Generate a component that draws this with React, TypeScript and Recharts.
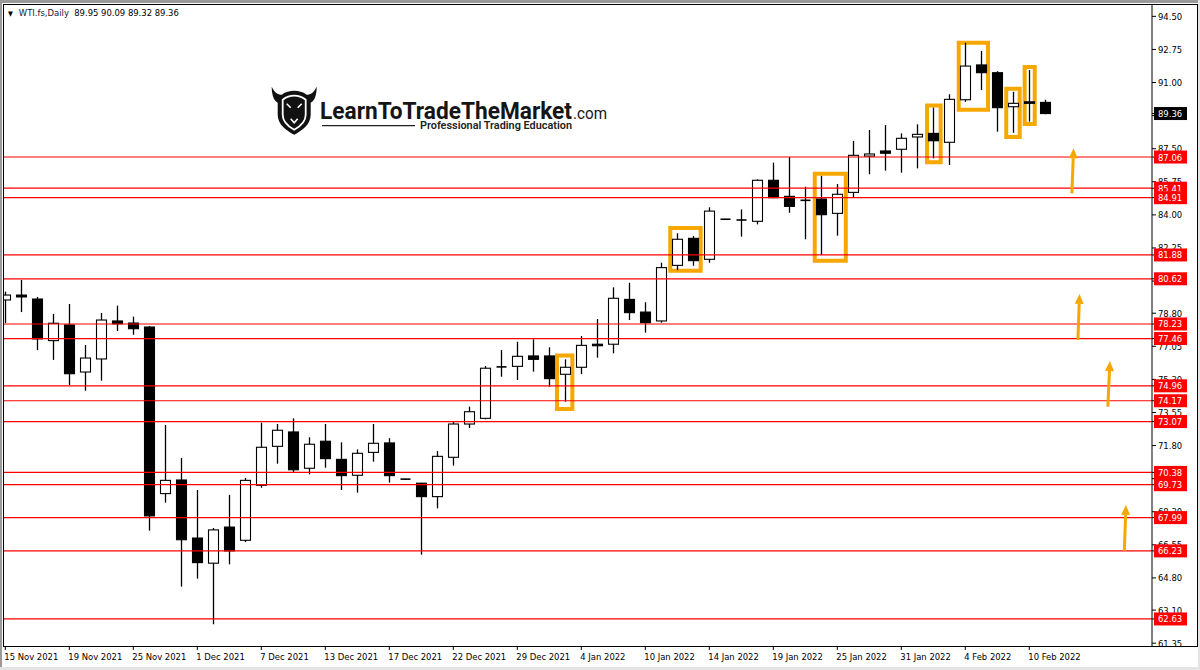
import React from 'react';
import { ComposedChart, Bar, XAxis, YAxis, ReferenceLine, ReferenceArea } from 'recharts';

// WTI daily candles, 15 Nov 2021 .. 11 Feb 2022
const opens = [
  79.5, 79.76, 79.55, 77.35, 78.18, 75.69, 76.38, 78.39, 78.28, 78.07,
  69.26, 69.98, 66.91, 65.58, 67.49, 66.79, 69.7, 71.76, 72.52, 70.6,
  72.03, 71.07, 70.23, 71.44, 71.94, 70.03, 69.81, 69.1, 71.18, 72.94,
  73.24, 75.95, 75.99, 76.54, 76.54, 75.57, 75.94, 77.16, 77.16, 79.53,
  78.86, 78.39, 81.33, 82.76, 81.65, 83.77, 83.73, 83.66, 85.83, 84.98,
  84.77, 84.84, 84.08, 85.19, 87.11, 87.38, 87.47, 88.12, 88.31, 87.84,
  90.09, 91.93, 91.52, 89.72, 89.98, 89.95,
];
const highs = [
  79.94, 80.56, 79.66, 78.76, 79.29, 77.12, 78.81, 79.2, 78.62, 78.12,
  72.89, 71.14, 69.45, 67.44, 69.19, 70.09, 73.01, 72.94, 73.24, 72.24,
  72.94, 71.97, 71.6, 72.94, 72.19, 70.04, 69.83, 71.51, 73.1, 73.86,
  76.01, 76.85, 77.29, 77.42, 77.0, 76.36, 77.59, 78.49, 80.17, 80.41,
  79.38, 81.47, 83.03, 82.88, 84.4, 83.79, 84.29, 85.88, 86.76, 87.06,
  85.49, 86.06, 85.63, 87.91, 88.49, 88.75, 88.31, 88.79, 89.67, 90.38,
  93.1, 92.67, 91.6, 90.51, 91.66, 90.09,
];
const lows = [
  78.28, 78.86, 76.85, 76.33, 75.0, 74.7, 75.23, 77.86, 77.66, 67.3,
  68.78, 64.34, 64.76, 62.35, 65.52, 66.69, 69.57, 70.84, 70.37, 70.28,
  70.63, 69.45, 69.31, 70.95, 69.84, 70.0, 66.03, 68.48, 70.74, 72.73,
  73.19, 75.44, 75.27, 75.71, 74.91, 74.12, 75.58, 76.45, 76.68, 78.44,
  77.77, 78.3, 81.08, 81.31, 81.47, 83.75, 82.85, 83.5, 84.88, 84.11,
  82.71, 81.88, 82.9, 84.93, 86.15, 86.34, 86.23, 86.46, 86.99, 86.64,
  89.98, 90.6, 88.4, 88.34, 88.93, 89.32,
];
const closes = [
  79.76, 79.66, 77.44, 78.27, 75.6, 76.43, 78.44, 78.24, 77.98, 68.08,
  69.96, 66.82, 65.61, 67.34, 66.23, 69.96, 71.71, 72.61, 70.52, 71.87,
  71.11, 70.21, 71.39, 71.92, 70.21, 70.02, 69.1, 71.23, 72.94, 73.59,
  75.89, 75.97, 76.52, 76.36, 75.34, 75.94, 77.1, 77.08, 79.59, 78.83,
  78.3, 81.21, 82.71, 81.58, 84.2, 83.77, 83.73, 85.83, 84.91, 84.45,
  84.77, 84.01, 85.09, 87.15, 87.22, 87.26, 88.05, 88.26, 87.92, 90.11,
  91.87, 91.52, 89.67, 89.9, 89.9, 89.36,
];

const dateTickIndex = [0, 4, 8, 12, 16, 20, 24, 28, 32, 36, 40, 44, 48, 52, 56, 60, 64];
const dateTickLabels = [
  '15 Nov 2021', '19 Nov 2021', '25 Nov 2021', '1 Dec 2021', '7 Dec 2021', '13 Dec 2021',
  '17 Dec 2021', '22 Dec 2021', '29 Dec 2021', '4 Jan 2022', '10 Jan 2022', '14 Jan 2022',
  '19 Jan 2022', '25 Jan 2022', '31 Jan 2022', '4 Feb 2022', '10 Feb 2022',
];

const priceTicks = [
  94.5, 92.75, 91.0, 89.25, 87.5, 85.75, 84.0, 82.25, 80.5, 78.8,
  77.05, 75.3, 73.55, 71.8, 70.05, 68.3, 66.55, 64.8, 63.1, 61.35,
];
const levels = [87.06, 85.41, 84.91, 81.88, 80.62, 78.23, 77.46, 74.96, 74.17, 73.07, 70.38, 69.73, 67.99, 66.23, 62.63];
const lastPrice = 89.36;

// orange boxes around candles (bar index / price)
const boxLeft = [34.48, 41.56, 50.59, 57.61, 59.59, 62.56, 63.71];
const boxRight = [35.44, 43.46, 52.53, 58.46, 61.42, 63.4, 64.34];
const boxTop = [76.57, 83.3, 86.18, 89.79, 93.1, 90.67, 91.82];
const boxBottom = [73.73, 81.05, 81.58, 86.78, 89.56, 88.12, 88.81];

// orange arrows in the right margin
const arrowX0 = [66.66, 67.04, 68.91, 69.94];
const arrowX1 = [66.77, 67.14, 69.04, 70.04];
const arrowFrom = [85.14, 77.38, 73.86, 66.24];
const arrowTo = [87.52, 79.82, 76.27, 68.66];

const ORANGE = '#F6A800';
const AXIS_FONT = '"DejaVu Sans Condensed", "DejaVu Sans", sans-serif';
const AXIS_SIZE = 9.4;

const candles = opens.map((o, i) => ({
  i,
  o,
  h: highs[i],
  l: lows[i],
  c: closes[i],
  range: [lows[i], highs[i]],
}));

const Candle = (props: any) => {
  const { x, y, width, height, payload } = props;
  if (x == null || !payload) return null;
  const top = Math.min(y, y + height);
  const span = Math.abs(height);
  const k = span / (payload.h - payload.l);
  const py = (p: number) => top + (payload.h - p) * k;
  const cx = Math.round(x + width / 2) + 0.5;
  const bTop = py(Math.max(payload.o, payload.c));
  const bBot = py(Math.min(payload.o, payload.c));
  const up = payload.c > payload.o;
  return (
    <g>
      <line x1={cx} x2={cx} y1={top} y2={top + span} stroke="#000" strokeWidth={1.3} />
      {bBot - bTop < 1.2 ? (
        <line x1={cx - 5} x2={cx + 5} y1={(bTop + bBot) / 2} y2={(bTop + bBot) / 2} stroke="#000" strokeWidth={1.6} />
      ) : (
        <rect x={cx - 5} y={bTop} width={10} height={bBot - bTop} fill={up ? '#fff' : '#000'} stroke="#000" strokeWidth={1.1} />
      )}
    </g>
  );
};

const PriceTick = (props: any) => {
  const { x, y, payload } = props;
  const v = payload.value;
  const label = Number(v).toFixed(2);
  if (levels.includes(v) || v === lastPrice) {
    return (
      <g>
        <rect x={x - 4} y={y - 6.5} width={33} height={13} fill={v === lastPrice ? '#000' : '#FF0000'} />
        <text x={x} y={y + 3.5} fill="#fff" fontSize={AXIS_SIZE} fontFamily={AXIS_FONT}>{label}</text>
      </g>
    );
  }
  return (
    <text x={x} y={y + 3.5} fill="#000" fontSize={AXIS_SIZE} fontFamily={AXIS_FONT}>{label}</text>
  );
};

const DateTick = (props: any) => {
  const { x, y, payload } = props;
  const idx = dateTickIndex.indexOf(payload.value);
  return (
    <text x={x - 1} y={y + 8} fill="#000" fontSize={AXIS_SIZE} fontFamily={AXIS_FONT} textAnchor="start">
      {dateTickLabels[idx]}
    </text>
  );
};

const Arrow = (props: any) => {
  const { x1, y1, x2, y2 } = props;
  if (x1 == null) return null;
  const dx = x2 - x1;
  const dy = y2 - y1;
  const len = Math.sqrt(dx * dx + dy * dy);
  const ux = dx / len;
  const uy = dy / len;
  const bx = x2 - ux * 10;
  const by = y2 - uy * 10;
  return (
    <g>
      <line x1={x1} y1={y1} x2={bx} y2={by} stroke={ORANGE} strokeWidth={3} />
      <polygon
        points={`${x2},${y2} ${bx - uy * 4.5},${by + ux * 4.5} ${bx + uy * 4.5},${by - ux * 4.5}`}
        fill={ORANGE}
      />
    </g>
  );
};

const Logo = () => (
  <svg width={350} height={65} style={{ position: 'absolute', left: 265, top: 80 }}>
    <g transform="translate(6.7,6.7)">
      <path
        d="M0,0 C3,6 6,8 10,8 C14,5 18,4 22.5,4 C27,4 31,5 35,8 C39,8 42,6 45,0 C45,8 43,14 39,16 L39,28 C39,38 30,44 22.5,48 C15,44 6,38 6,28 L6,16 C2,14 0,8 0,0 Z"
        fill="#111"
      />
      <path
        d="M11,13 C15,10 19,9 22.5,9 C26,9 30,10 34,13 L34,28 C34,36 28,40 22.5,43 C17,40 11,36 11,28 Z"
        fill="none"
        stroke="#fff"
        strokeWidth={1.8}
      />
      <path d="M15,17 L19,21 M30,17 L26,21 M19,32 L22.5,36 L26,32" stroke="#fff" strokeWidth={1.6} fill="none" />
    </g>
    <text x={55} y={38.5} fontSize={23} fontWeight={700} fill="#151515" fontFamily="Roboto, 'Open Sans', sans-serif" textLength={252} lengthAdjust="spacingAndGlyphs">
      LearnToTradeTheMarket
    </text>
    <text x={308} y={38.5} fontSize={17} fill="#151515" fontFamily="Roboto, 'Open Sans', sans-serif" textLength={34} lengthAdjust="spacingAndGlyphs">
      .com
    </text>
    <line x1={57} x2={150} y1={45.7} y2={45.7} stroke="#222" strokeWidth={1.3} />
    <text x={155} y={48.5} fontSize={10.5} fontWeight={600} fill="#222" fontFamily="Roboto, 'Open Sans', sans-serif" textLength={152} lengthAdjust="spacingAndGlyphs">
      Professional Trading Education
    </text>
  </svg>
);

export default function App() {
  const yTicks = [...priceTicks, ...levels, lastPrice];
  return (
    <div style={{ position: 'absolute', left: 0, top: 0, width: 1200, height: 670, background: '#fff', overflow: 'hidden' }}>
      <div style={{ position: 'absolute', left: 0, top: 0, width: 1200, height: 3, background: '#9a9a9a' }} />
      <div style={{ position: 'absolute', left: 0, top: 0, width: 2, height: 670, background: '#9a9a9a' }} />
      <div style={{ position: 'absolute', left: 0, top: 667, width: 1200, height: 3, background: '#e4e4e4' }} />
      <div style={{ position: 'absolute', left: 1198, top: 0, width: 2, height: 670, background: '#e4e4e4' }} />
      <div
        style={{
          position: 'absolute',
          left: 3,
          top: 4,
          width: 1195,
          height: 643,
          border: '1px solid #000',
          boxSizing: 'border-box',
        }}
      />
      <div style={{ position: 'absolute', left: 0, top: 0 }}>
        <ComposedChart width={1200} height={670} data={candles} margin={{ top: 5, right: 3, bottom: 4, left: 4 }}>
          <XAxis
            dataKey="i"
            type="number"
            domain={[-0.08125, 71.669]}
            allowDataOverflow
            ticks={dateTickIndex}
            interval={0}
            tickSize={4}
            height={20}
            axisLine={false}
            tickLine={{ stroke: '#000' }}
            tick={<DateTick />}
          />
          <YAxis
            orientation="right"
            type="number"
            domain={[61.2, 95.1]}
            allowDataOverflow
            ticks={yTicks}
            interval={0}
            tickSize={4}
            width={45}
            axisLine={{ stroke: '#000' }}
            tickLine={{ stroke: '#000' }}
            tick={<PriceTick />}
          />
          {levels.map((lv) => (
            <ReferenceLine key={lv} y={lv} stroke="#FF0000" strokeWidth={1.2} />
          ))}
          <Bar dataKey="range" barSize={10} isAnimationActive={false} shape={<Candle />} />
          {boxLeft.map((bl, k) => (
            <ReferenceArea
              key={k}
              x1={bl}
              x2={boxRight[k]}
              y1={boxBottom[k]}
              y2={boxTop[k]}
              fill="none"
              fillOpacity={0}
              stroke={ORANGE}
              strokeWidth={4}
              ifOverflow="visible"
            />
          ))}
          {arrowX0.map((ax, k) => (
            <ReferenceLine
              key={'a' + k}
              segment={[{ x: ax, y: arrowFrom[k] }, { x: arrowX1[k], y: arrowTo[k] }]}
              shape={<Arrow />}
              ifOverflow="visible"
            />
          ))}
        </ComposedChart>
      </div>
      <Logo />
      <div
        style={{
          position: 'absolute',
          left: 8,
          top: 6,
          fontFamily: AXIS_FONT,
          fontSize: AXIS_SIZE,
          color: '#000',
          whiteSpace: 'pre',
          lineHeight: '14px',
        }}
      >
        <span style={{ fontSize: 7, marginRight: 6 }}>▼</span>
        <span style={{ color: '#101a40' }}>WTI.fs,Daily</span>
        {'  89.95 90.09 89.32 89.36'}
      </div>
    </div>
  );
}
